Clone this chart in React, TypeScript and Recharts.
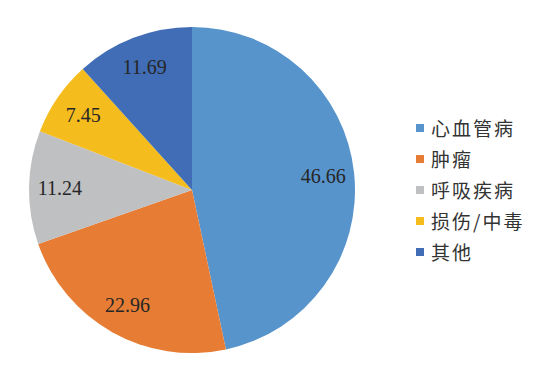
import React from "react";
import { PieChart, Pie, Cell, Legend } from "recharts";

const categories = ["心血管病", "肿瘤", "呼吸疾病", "损伤/中毒", "其他"];
const values = [46.66, 22.96, 11.24, 7.45, 11.69];
const colors = ["#5894CC", "#E77C34", "#BFC0C2", "#F5BC1E", "#406DB5"];

const data = categories.map((name, i) => ({ name, value: values[i] }));

const RAD = Math.PI / 180;

const renderLabel = (props: any) => {
  const { cx, cy, midAngle, outerRadius, value } = props;
  const r = outerRadius * 0.81;
  const x = cx + r * Math.cos(-midAngle * RAD);
  const y = cy + r * Math.sin(-midAngle * RAD);
  return (
    <text
      x={x}
      y={y}
      fill="#262626"
      fontSize={20}
      fontFamily="'Liberation Serif', 'Times New Roman', serif"
      textAnchor="middle"
      dominantBaseline="central"
    >
      {value.toFixed(2)}
    </text>
  );
};

const renderLegend = () => (
  <div style={{ position: "absolute", left: 416, top: 112 }}>
    {categories.map((c, i) => (
      <div
        key={c}
        style={{
          display: "flex",
          alignItems: "center",
          height: 31,
          fontFamily: "'Noto Sans CJK SC', sans-serif",
          fontSize: 19,
          color: "#333333",
          letterSpacing: 2,
        }}
      >
        <span
          style={{
            display: "inline-block",
            width: 8,
            height: 8,
            background: colors[i],
            marginRight: 7,
          }}
        />
        {c}
      </div>
    ))}
  </div>
);

export default function App() {
  return (
    <div style={{ position: "absolute", left: 0, top: 0, width: 554, height: 367, background: "#fff" }}>
      <PieChart width={554} height={367} margin={{ top: 0, right: 0, bottom: 0, left: 0 }}>
        <Pie
          data={data}
          dataKey="value"
          nameKey="name"
          cx={192}
          cy={190}
          outerRadius={163}
          startAngle={90}
          endAngle={-270}
          stroke="none"
          label={renderLabel}
          labelLine={false}
          isAnimationActive={false}
        >
          {data.map((d, i) => (
            <Cell key={d.name} fill={colors[i]} />
          ))}
        </Pie>
        <Legend content={renderLegend} wrapperStyle={{ position: "absolute", left: 0, top: 0, width: 554, height: 367 }} />
      </PieChart>
    </div>
  );
}
